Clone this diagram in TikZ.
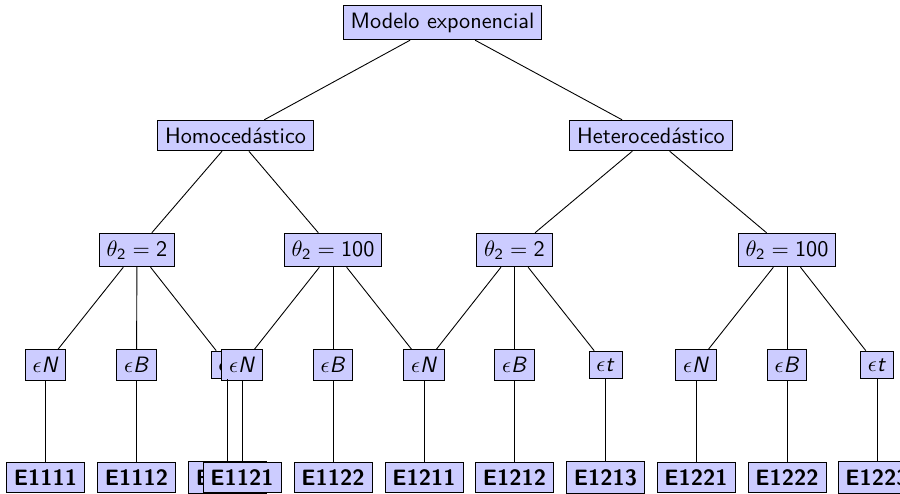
\documentclass[tikz,border=0pt]{standalone}
\usepackage{amsmath}
\usepackage{fontspec}
\usepackage{tikz}

\begin{document}
\begin{tikzpicture}[x=0.45pt,y=-0.45pt,font=\sffamily,
    caja/.style={draw,fill=blue!20},
    hoja/.style={draw,fill=blue!20,font=\sffamily\bfseries}]
  \clip (0,0) rectangle (900,493);
  % upper levels
  \node[caja] (raiz) at (442.5,22.5) {Modelo exponencial};
  \node[caja] (homo) at (235.5,135.5) {Homocedástico};
  \node[caja] (hete) at (651,135.5) {Heterocedástico};
  \node[caja] (t11) at (137,250) {$\theta_{\textsf{2}} = \textsf{2}$};
  \node[caja] (t12) at (333,250) {$\theta_{\textsf{2}} = \textsf{100}$};
  \node[caja] (t21) at (514.5,250) {$\theta_{\textsf{2}} = \textsf{2}$};
  \node[caja] (t22) at (787,250) {$\theta_{\textsf{2}} = \textsf{100}$};
  % error distributions (drawn left to right, later ones cover earlier ones)
  \foreach \n/\x/\d in {111/45.5/N,112/136.5/B,113/227.5/t,121/242/N,122/333/B,
                        211/424/N,212/514.5/B,213/605.5/t,221/696/N,222/787/B,223/877/t}
    \node[caja] (d\n) at (\x,365) {$\epsilon$\textit{\d}};
  % scenarios
  \foreach \n/\x in {111/45.5,112/136.5,113/227.5,121/242,122/333,
                     211/424,212/514.5,213/605.5,221/696,222/787,223/877}
    \node[hoja] (e\n) at (\x,477.5) {E1\n};
  % edges
  \draw (raiz) -- (homo);
  \draw (raiz) -- (hete);
  \foreach \a/\b in {homo/t11,homo/t12,hete/t21,hete/t22,
                     t11/d111,t11/d112,t11/d113,t12/d121,t12/d122,t12/d211,
                     t21/d211,t21/d212,t21/d213,t22/d221,t22/d222,t22/d223}
    \draw (\a) -- (\b);
  \foreach \n in {111,112,113,121,122,211,212,213,221,222,223}
    \draw (d\n) -- (e\n);
\end{tikzpicture}
\end{document}
